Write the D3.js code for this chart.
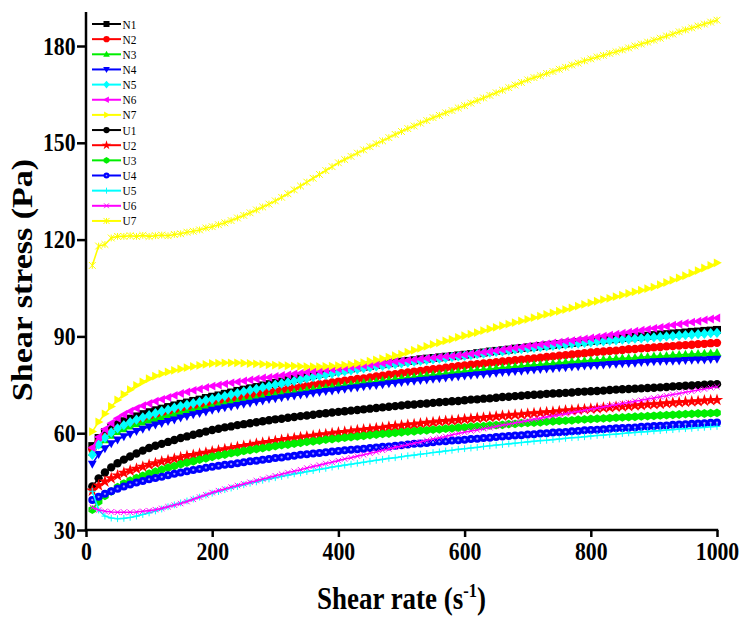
<!DOCTYPE html>
<html><head><meta charset="utf-8">
<script src="https://cdn.jsdelivr.net/npm/d3@7"></script>
<style>body{margin:0;background:#fff}svg{display:block}</style></head>
<body><svg id="c" width="753" height="619"></svg>
<script>
const shearRate = [10,20,30,40,50,60,70,80,90,100,110,120,130,140,150,160,170,180,190,200,210,220,230,240,250,260,270,280,290,300,310,320,330,340,350,360,370,380,390,400,410,420,430,440,450,460,470,480,490,500,510,520,530,540,550,560,570,580,590,600,610,620,630,640,650,660,670,680,690,700,710,720,730,740,750,760,770,780,790,800,810,820,830,840,850,860,870,880,890,900,910,920,930,940,950,960,970,980,990,1000];

const N1 = [56,58.5,60.3,61.7,62.8,63.7,64.5,65.2,65.9,66.5,67.1,67.6,68.1,68.6,69.1,69.5,70,70.4,70.9,71.3,71.7,72.2,72.6,73.1,73.5,73.9,74.3,74.8,75.2,75.6,76,76.4,76.8,77.2,77.6,78,78.4,78.7,79.1,79.5,79.8,80.1,80.4,80.6,80.9,81.2,81.4,81.7,81.9,82.2,82.4,82.6,82.9,83.1,83.3,83.5,83.7,83.9,84.1,84.3,84.5,84.8,85,85.3,85.5,85.7,85.9,86.2,86.4,86.6,86.8,87,87.2,87.4,87.6,87.8,88,88.2,88.4,88.6,88.8,89,89.1,89.3,89.5,89.7,89.9,90,90.2,90.4,90.6,90.7,90.9,91,91.2,91.4,91.5,91.7,91.8,92];
const N2 = [55,57.2,58.8,60.2,61.3,62.2,63,63.7,64.4,65,65.5,66,66.5,66.9,67.4,67.8,68.2,68.6,69,69.4,69.8,70.2,70.5,70.9,71.3,71.6,72,72.3,72.7,73,73.3,73.6,74,74.3,74.6,74.9,75.2,75.4,75.7,76,76.3,76.5,76.8,77,77.3,77.6,77.8,78.1,78.3,78.6,78.8,79.1,79.3,79.6,79.8,80,80.3,80.5,80.8,81,81.2,81.4,81.6,81.8,82,82.2,82.4,82.6,82.8,83,83.2,83.4,83.6,83.8,84,84.2,84.4,84.6,84.8,85,85.2,85.3,85.5,85.6,85.8,86,86.1,86.3,86.4,86.6,86.7,86.9,87,87.2,87.3,87.4,87.6,87.7,87.9,88];
const N3 = [54,56.3,57.9,59.3,60.4,61.3,62.1,62.8,63.4,64,64.5,65,65.5,65.9,66.4,66.8,67.2,67.6,68,68.4,68.8,69.1,69.5,69.8,70.2,70.5,70.8,71.2,71.5,71.8,72.1,72.4,72.7,73,73.3,73.6,73.8,74.1,74.3,74.6,74.8,75.1,75.3,75.6,75.8,76,76.3,76.5,76.8,77,77.2,77.4,77.7,77.9,78.1,78.3,78.5,78.8,79,79.2,79.4,79.6,79.7,79.9,80.1,80.3,80.5,80.6,80.8,81,81.2,81.3,81.5,81.6,81.8,82,82.1,82.3,82.4,82.6,82.7,82.8,83,83.1,83.2,83.3,83.4,83.6,83.7,83.8,83.9,84,84.2,84.3,84.4,84.5,84.6,84.7,84.8,84.9];
const N4 = [50.5,53.5,55.3,56.8,58,59,59.8,60.6,61.3,62,62.6,63.1,63.7,64.2,64.8,65.3,65.8,66.2,66.7,67.2,67.6,68,68.3,68.7,69.1,69.4,69.8,70.1,70.5,70.8,71.1,71.4,71.6,71.9,72.2,72.5,72.7,73,73.2,73.5,73.7,74,74.2,74.5,74.7,74.9,75.1,75.4,75.6,75.8,76,76.2,76.4,76.6,76.8,77,77.2,77.4,77.6,77.8,78,78.2,78.3,78.5,78.7,78.9,79,79.2,79.3,79.5,79.7,79.8,80,80.1,80.3,80.4,80.6,80.7,80.9,81,81.1,81.2,81.4,81.5,81.6,81.7,81.8,82,82.1,82.2,82.3,82.4,82.4,82.5,82.6,82.7,82.8,82.8,82.9,83];
const N5 = [53.3,56.5,58.6,60.2,61.5,62.5,63.4,64.2,64.9,65.6,66.2,66.8,67.3,67.9,68.4,68.8,69.3,69.7,70.2,70.6,71.1,71.5,72,72.4,72.9,73.3,73.7,74.2,74.6,75,75.4,75.8,76.2,76.6,77,77.4,77.8,78.1,78.5,78.9,79.2,79.5,79.8,80.1,80.4,80.7,80.9,81.2,81.4,81.7,81.9,82.2,82.4,82.7,82.9,83.1,83.3,83.6,83.8,84,84.2,84.5,84.7,85,85.2,85.4,85.6,85.9,86.1,86.3,86.5,86.7,86.9,87.1,87.3,87.5,87.7,87.8,88,88.2,88.4,88.5,88.7,88.8,89,89.1,89.3,89.4,89.6,89.7,89.8,90,90.1,90.3,90.4,90.5,90.7,90.8,91,91.1];
const N6 = [55.5,58.8,61.2,63.1,64.6,65.8,66.8,67.7,68.5,69.2,69.9,70.5,71.1,71.7,72.3,72.8,73.3,73.7,74.2,74.6,74.9,75.3,75.6,75.9,76.2,76.5,76.8,77.1,77.3,77.6,77.9,78.1,78.4,78.6,78.9,79.1,79.3,79.6,79.8,80,80.2,80.5,80.7,81,81.2,81.4,81.7,81.9,82.2,82.4,82.6,82.8,83,83.2,83.4,83.6,83.8,83.9,84.1,84.3,84.6,84.8,85.1,85.3,85.6,85.9,86.2,86.4,86.7,87,87.2,87.5,87.7,88,88.2,88.5,88.7,89,89.2,89.5,89.8,90.1,90.4,90.7,91,91.3,91.6,91.9,92.2,92.5,92.8,93.1,93.5,93.8,94.1,94.4,94.7,95.1,95.4,95.7];
const N7 = [60.5,63.5,66,68.3,70.3,72,73.5,74.8,75.9,76.9,77.7,78.4,79,79.5,79.9,80.3,80.7,81,81.3,81.6,81.7,81.8,81.8,81.8,81.7,81.6,81.5,81.4,81.2,81.1,81,80.9,80.8,80.7,80.6,80.6,80.6,80.7,80.8,80.9,81.1,81.3,81.6,81.9,82.3,82.7,83.1,83.6,84,84.5,85.1,85.7,86.3,86.9,87.5,88,88.6,89.1,89.7,90.2,90.7,91.2,91.8,92.3,92.8,93.3,93.8,94.3,94.8,95.3,95.8,96.3,96.8,97.3,97.8,98.3,98.8,99.4,99.9,100.4,100.9,101.4,101.8,102.3,102.8,103.3,103.8,104.3,104.8,105.3,106,106.7,107.4,108.1,108.8,109.6,110.4,111.2,112,112.8];
const U1 = [43.5,46,47.8,49.4,50.7,51.8,52.8,53.7,54.6,55.4,56.1,56.7,57.3,57.9,58.5,59,59.5,60,60.5,61,61.4,61.8,62.1,62.5,62.8,63.1,63.4,63.7,64,64.3,64.5,64.8,65,65.3,65.5,65.7,66,66.2,66.4,66.6,66.8,67,67.2,67.4,67.6,67.8,68,68.2,68.4,68.6,68.8,68.9,69.1,69.2,69.4,69.6,69.7,69.9,70,70.2,70.4,70.5,70.7,70.8,71,71.2,71.3,71.5,71.6,71.8,71.9,72,72.2,72.3,72.4,72.5,72.6,72.8,72.9,73,73.1,73.2,73.4,73.5,73.6,73.7,73.8,73.9,74,74.1,74.2,74.3,74.5,74.6,74.7,74.8,74.9,75,75.1,75.2];
const U2 = [42.2,43.8,45,46,46.9,47.7,48.4,49,49.6,50.2,50.7,51.2,51.6,52.1,52.5,52.9,53.2,53.6,53.9,54.3,54.6,55,55.3,55.7,56,56.3,56.7,57,57.3,57.6,57.9,58.2,58.4,58.7,59,59.2,59.5,59.7,60,60.2,60.4,60.6,60.9,61.1,61.3,61.5,61.7,62,62.2,62.4,62.6,62.8,63,63.2,63.4,63.6,63.8,63.9,64.1,64.3,64.5,64.7,64.8,65,65.2,65.4,65.5,65.7,65.8,66,66.2,66.3,66.5,66.6,66.8,67,67.1,67.3,67.4,67.6,67.7,67.9,68,68.2,68.3,68.4,68.6,68.7,68.9,69,69.1,69.3,69.4,69.6,69.7,69.8,69.9,70.1,70.2,70.3];
const U3 = [36.3,38.8,40.6,42,43.3,44.4,45.3,46.1,46.8,47.5,48.1,48.7,49.3,49.8,50.4,50.9,51.3,51.8,52.2,52.7,53.1,53.4,53.8,54.1,54.5,54.8,55.1,55.4,55.7,56,56.3,56.5,56.8,57,57.3,57.5,57.7,58,58.2,58.4,58.6,58.8,59,59.2,59.4,59.6,59.8,59.9,60.1,60.3,60.5,60.6,60.8,60.9,61.1,61.2,61.4,61.5,61.7,61.8,62,62.1,62.2,62.4,62.5,62.6,62.8,62.9,63.1,63.2,63.3,63.4,63.6,63.7,63.8,63.9,64,64.2,64.3,64.4,64.5,64.6,64.7,64.8,64.9,65,65.1,65.2,65.3,65.4,65.5,65.6,65.7,65.8,65.9,66,66.1,66.1,66.2,66.3];
const U4 = [39.3,40.3,41.2,42,42.8,43.5,44.1,44.7,45.2,45.7,46.1,46.5,47,47.4,47.8,48.2,48.6,48.9,49.3,49.6,49.9,50.2,50.4,50.7,51,51.3,51.5,51.8,52,52.3,52.5,52.8,53,53.3,53.5,53.7,53.9,54.1,54.3,54.5,54.7,54.9,55,55.2,55.4,55.6,55.8,55.9,56.1,56.3,56.5,56.7,56.8,57,57.2,57.4,57.5,57.7,57.8,58,58.2,58.3,58.5,58.6,58.8,59,59.1,59.3,59.4,59.6,59.7,59.9,60,60.2,60.3,60.4,60.6,60.7,60.9,61,61.1,61.2,61.4,61.5,61.6,61.7,61.8,62,62.1,62.2,62.3,62.4,62.6,62.7,62.8,62.9,63,63.1,63.2,63.3];
const U5 = [42,36.2,34.3,33.7,33.5,33.6,33.9,34.3,34.8,35.3,35.9,36.5,37.2,37.8,38.4,39,39.6,40.2,40.8,41.4,41.9,42.5,43,43.5,44,44.5,44.9,45.4,45.8,46.2,46.6,47,47.4,47.7,48.1,48.4,48.8,49.1,49.5,49.8,50.1,50.4,50.7,51,51.3,51.6,51.9,52.2,52.4,52.7,53,53.2,53.5,53.7,54,54.2,54.5,54.7,55,55.2,55.4,55.6,55.9,56.1,56.3,56.5,56.7,56.9,57.1,57.3,57.5,57.7,57.8,58,58.2,58.4,58.6,58.7,58.9,59.1,59.3,59.4,59.6,59.7,59.9,60.1,60.2,60.4,60.5,60.7,60.8,61,61.1,61.3,61.4,61.5,61.7,61.8,62,62.1];
const U6 = [37,36.2,35.8,35.6,35.5,35.5,35.5,35.6,35.8,36,36.3,36.7,37.2,37.7,38.2,38.8,39.5,40.2,40.9,41.6,42.2,42.7,43.3,43.8,44.3,44.8,45.3,45.8,46.3,46.8,47.3,47.8,48.2,48.7,49.2,49.7,50.1,50.6,51,51.5,52,52.4,52.9,53.3,53.8,54.2,54.7,55.1,55.6,56,56.4,56.9,57.3,57.8,58.2,58.6,59,59.5,59.9,60.3,60.7,61,61.4,61.7,62.1,62.5,62.8,63.2,63.5,63.9,64.3,64.6,65,65.3,65.7,66,66.4,66.7,67.1,67.4,67.8,68.1,68.5,68.8,69.2,69.5,69.9,70.2,70.6,70.9,71.3,71.6,72,72.3,72.7,73,73.4,73.7,74.1,74.4];
const U7 = [112,118,118.5,120.5,121,121,121.2,121,121.3,121,121.2,121.4,121.2,121.6,121.8,122.3,122.6,123,123.6,124,124.6,125.2,125.9,126.7,127.5,128.3,129.2,130.1,131,132,133.1,134.2,135.4,136.6,137.8,139,140.2,141.4,142.6,143.8,144.8,145.8,146.8,147.8,148.8,149.7,150.6,151.6,152.6,153.5,154.4,155.2,156.1,156.9,157.8,158.5,159.3,160,160.8,161.5,162.3,163.1,163.9,164.7,165.5,166.3,167.1,167.9,168.7,169.5,170.2,170.8,171.5,172.1,172.8,173.4,174.1,174.7,175.4,176,176.6,177.1,177.7,178.2,178.8,179.4,180,180.6,181.2,181.8,182.4,183.1,183.7,184.4,185,185.6,186.2,186.8,187.4,188];

const seriesNames = ["N1","N2","N3","N4","N5","N6","N7","U1","U2","U3","U4","U5","U6","U7"];
const seriesValues = [N1,N2,N3,N4,N5,N6,N7,U1,U2,U3,U4,U5,U6,U7];
const seriesColors = ["#000000","#ff0000","#00ee00","#0000ff","#00ffff","#ff00ff","#ffff00","#000000","#ff0000","#00ee00","#0000ff","#00ffff","#ff00ff","#ffff00"];
const seriesMarkers = ["square","circle","triUp","triDown","diamond","triLeft","triRight","circle","star","hexagon","dotCircle","plus","cross","asterisk"];
const xTicks = [0,200,400,600,800,1000];
const yTicks = [30,60,90,120,150,180];

const svg = d3.select("#c");
const x = d3.scaleLinear().domain([0,1000]).range([86,717]);
const y = d3.scaleLinear().domain([30,180]).range([530,46]);
const serif = "Liberation Serif, Times New Roman, serif";
const squeeze = 0.87;

function markerPath(kind, s){
  switch(kind){
    case "square": return `M${-s},${-s}H${s}V${s}H${-s}Z`;
    case "circle": return d3.symbol(d3.symbolCircle, Math.PI*s*s*1.1)();
    case "triUp": return `M0,${-s*1.2}L${s*1.1},${s*0.8}L${-s*1.1},${s*0.8}Z`;
    case "triDown": return `M0,${s*1.2}L${s*1.1},${-s*0.8}L${-s*1.1},${-s*0.8}Z`;
    case "triLeft": return `M${-s*1.2},0L${s*0.8},${-s*1.1}L${s*0.8},${s*1.1}Z`;
    case "triRight": return `M${s*1.2},0L${-s*0.8},${-s*1.1}L${-s*0.8},${s*1.1}Z`;
    case "diamond": return `M0,${-s*1.3}L${s*1.1},0L0,${s*1.3}L${-s*1.1},0Z`;
    case "star": return d3.symbol(d3.symbolStar, s*s*3)();
    case "hexagon": {
      let p = [];
      for(let i=0;i<6;i++){const a=Math.PI/3*i+Math.PI/6; p.push([Math.cos(a)*s*1.1, Math.sin(a)*s*1.1]);}
      return "M"+p.map(q=>q.join(",")).join("L")+"Z";
    }
    case "dotCircle": return d3.symbol(d3.symbolCircle, Math.PI*s*s)();
    case "plus": return `M${-s},0H${s}M0,${-s}V${s}`;
    case "cross": return `M${-s*0.8},${-s*0.8}L${s*0.8},${s*0.8}M${-s*0.8},${s*0.8}L${s*0.8},${-s*0.8}`;
    case "asterisk": return `M${-s},${-s}L${s},${s}M${-s},${s}L${s},${-s}M0,${-s}V${s}`;
  }
}
const strokeOnly = new Set(["plus","cross","asterisk"]);

function drawMarker(g, kind, color, s){
  if(strokeOnly.has(kind)){
    g.append("path").attr("d", markerPath(kind,s)).attr("stroke", color).attr("stroke-width", 1).attr("fill","none");
  } else if(kind==="dotCircle"){
    g.append("path").attr("d", markerPath(kind,s)).attr("fill", color);
    g.append("circle").attr("r", s*0.28).attr("fill","#9999ff");
  } else {
    g.append("path").attr("d", markerPath(kind,s)).attr("fill", color);
  }
}

const line = d3.line().x((d,i)=>x(shearRate[i])).y(d=>y(d));
seriesValues.forEach((vals, k)=>{
  const g = svg.append("g");
  g.append("path").datum(vals).attr("d", line).attr("fill","none")
    .attr("stroke", seriesColors[k]).attr("stroke-width", 1.6);
  const big = !strokeOnly.has(seriesMarkers[k]);
  vals.forEach((v,i)=>{
    const mg = g.append("g").attr("transform", `translate(${x(shearRate[i])},${y(v)})`);
    drawMarker(mg, seriesMarkers[k], seriesColors[k], big ? 4 : 3.4);
  });
});

// axes
const yAxis = d3.axisLeft(y).tickValues(yTicks).tickSize(9).tickPadding(3).tickFormat(d3.format("d"));
const gy = svg.append("g").attr("transform","translate(86,0)").call(yAxis);
const xAxis = d3.axisBottom(x).tickValues(xTicks).tickSize(7).tickPadding(5).tickFormat(d3.format("d"));
const gx = svg.append("g").attr("transform","translate(0,530)").call(xAxis);
[gx,gy].forEach(g=>{
  g.attr("font-family",serif);
  g.select(".domain").remove();
  g.selectAll(".tick line").attr("stroke","#000").attr("stroke-width",2.5);
  g.selectAll("text").style("font-family",serif).attr("font-weight","bold").attr("font-size",25).attr("fill","#000")
    .attr("transform",`scale(${squeeze},1)`);
});
gx.selectAll("text").attr("dy","0.71em");
svg.append("line").attr("x1",86).attr("x2",86).attr("y1",12).attr("y2",y(30)+1.2).attr("stroke","#000").attr("stroke-width",2.5);
svg.append("line").attr("x1",84.8).attr("x2",x(1000)+1.2).attr("y1",530).attr("y2",530).attr("stroke","#000").attr("stroke-width",2.5);

// axis titles
svg.append("text").attr("transform",`translate(${(x(0)+x(1000))/2},609) scale(${squeeze},1)`).attr("text-anchor","middle")
  .style("font-family",serif).attr("font-weight","bold").attr("font-size",31)
  .html('Shear rate (s<tspan dy="-12" font-size="19">-1</tspan><tspan dy="12">)</tspan>');
svg.append("text").attr("transform",`translate(32,280) scale(${squeeze},1) rotate(-90)`).attr("text-anchor","middle")
  .style("font-family",serif).attr("font-weight","bold").attr("font-size",34).text("Shear stress (Pa)");

// legend
const lg = svg.append("g");
seriesNames.forEach((n,k)=>{
  const yy = 24 + k*15.15;
  lg.append("line").attr("x1",92).attr("x2",121).attr("y1",yy).attr("y2",yy).attr("stroke",seriesColors[k]).attr("stroke-width",2);
  const mg = lg.append("g").attr("transform",`translate(106.5,${yy})`);
  drawMarker(mg, seriesMarkers[k], seriesColors[k], 3);
  lg.append("text").attr("transform",`translate(122.5,${yy+4.5}) scale(${squeeze},1)`).style("font-family",serif).attr("font-size",13).text(n);
});
</script></body></html>
